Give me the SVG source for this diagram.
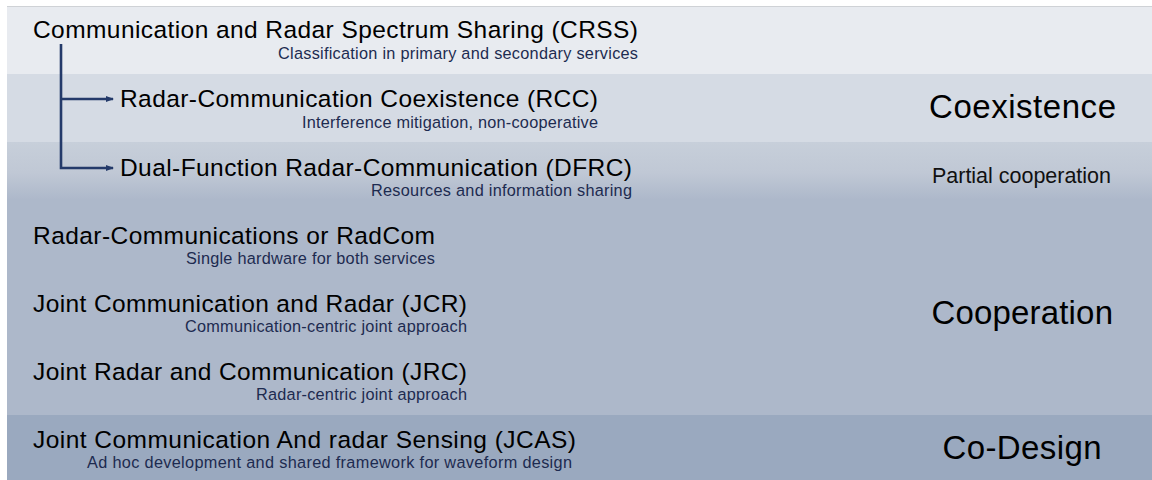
<svg xmlns="http://www.w3.org/2000/svg" width="1152" height="480" viewBox="0 0 1152 480">
  <style>
    .main { font-family: "Liberation Sans", Arial, Helvetica, sans-serif; font-size: 24.5px; fill: #000000; }
    .sub { font-family: "Liberation Sans", Arial, Helvetica, sans-serif; font-size: 16.3px; fill: #1d2b50; }
    .big { font-family: "Liberation Sans", Arial, Helvetica, sans-serif; font-size: 33px; fill: #000000; }
    .mid { font-family: "Liberation Sans", Arial, Helvetica, sans-serif; font-size: 21.5px; fill: #111111; }
    .conn { fill: none; stroke: #243a6a; stroke-width: 2.6; }
  </style>
  <defs>
    <linearGradient id="band3" x1="0" y1="142" x2="0" y2="210" gradientUnits="userSpaceOnUse">
      <stop offset="0" stop-color="#c7cfda"/>
      <stop offset="0.45" stop-color="#c0c8d5"/>
      <stop offset="0.85" stop-color="#adb8ca"/>
      <stop offset="1" stop-color="#adb8ca"/>
    </linearGradient>
    <marker id="arrow" viewBox="0 0 8 8" refX="7" refY="4" markerWidth="8" markerHeight="8" markerUnits="userSpaceOnUse" orient="auto">
      <path d="M0,1 L8,4 L0,7 Z" fill="#243a6a"/>
    </marker>
  </defs>

  <rect x="0" y="0" width="1152" height="480" fill="#ffffff"/>
  <g id="bands">
    <rect x="7" y="6" width="1145" height="68" fill="#e8ebf0"/>
    <rect x="7" y="74" width="1145" height="68" fill="#d5dbe4"/>
    <rect x="7" y="142" width="1145" height="68" fill="url(#band3)"/>
    <rect x="7" y="210" width="1145" height="205" fill="#adb8ca"/>
    <rect x="7" y="415" width="1145" height="65" fill="#9aa9bf"/>
    <line x1="7" y1="6.5" x2="1152" y2="6.5" stroke="#cfd2d6" stroke-width="1"/>
  </g>

  <g id="connectors">
    <path class="conn" d="M61,44 V168 H113" marker-end="url(#arrow)"/>
    <path class="conn" d="M61,99 H113" marker-end="url(#arrow)"/>
  </g>

  <g id="crss">
    <text class="main" x="33" y="38" textLength="605" lengthAdjust="spacing">Communication and Radar Spectrum Sharing (CRSS)</text>
    <text class="sub" x="278" y="58.5" textLength="360" lengthAdjust="spacing">Classification in primary and secondary services</text>
  </g>
  <g id="rcc">
    <text class="main" x="120" y="107" textLength="478" lengthAdjust="spacing">Radar-Communication Coexistence (RCC)</text>
    <text class="sub" x="302" y="127.5" textLength="296" lengthAdjust="spacing">Interference mitigation, non-cooperative</text>
  </g>
  <g id="dfrc">
    <text class="main" x="120" y="175.5" textLength="512" lengthAdjust="spacing">Dual-Function Radar-Communication (DFRC)</text>
    <text class="sub" x="371" y="196" textLength="261" lengthAdjust="spacing">Resources and information sharing</text>
  </g>
  <g id="radcom">
    <text class="main" x="33" y="244" textLength="402" lengthAdjust="spacing">Radar-Communications or RadCom</text>
    <text class="sub" x="186" y="264" textLength="249" lengthAdjust="spacing">Single hardware for both services</text>
  </g>
  <g id="jcr">
    <text class="main" x="33" y="312" textLength="434" lengthAdjust="spacing">Joint Communication and Radar (JCR)</text>
    <text class="sub" x="185" y="332" textLength="282" lengthAdjust="spacing">Communication-centric joint approach</text>
  </g>
  <g id="jrc">
    <text class="main" x="33" y="380" textLength="434" lengthAdjust="spacing">Joint Radar and Communication (JRC)</text>
    <text class="sub" x="256" y="400" textLength="211" lengthAdjust="spacing">Radar-centric joint approach</text>
  </g>
  <g id="jcas">
    <text class="main" x="33" y="448" textLength="543" lengthAdjust="spacing">Joint Communication And radar Sensing (JCAS)</text>
    <text class="sub" x="87" y="467.5" textLength="485" lengthAdjust="spacing">Ad hoc development and shared framework for waveform design</text>
  </g>

  <g id="coexistence">
    <text class="big" x="929" y="118" textLength="187" lengthAdjust="spacing">Coexistence</text>
  </g>
  <g id="partial-cooperation">
    <text class="mid" x="932" y="183" textLength="179" lengthAdjust="spacing">Partial cooperation</text>
  </g>
  <g id="cooperation">
    <text class="big" x="931.5" y="323.5" textLength="181.5" lengthAdjust="spacing">Cooperation</text>
  </g>
  <g id="co-design">
    <text class="big" x="942.5" y="459" textLength="159" lengthAdjust="spacing">Co-Design</text>
  </g>
</svg>
